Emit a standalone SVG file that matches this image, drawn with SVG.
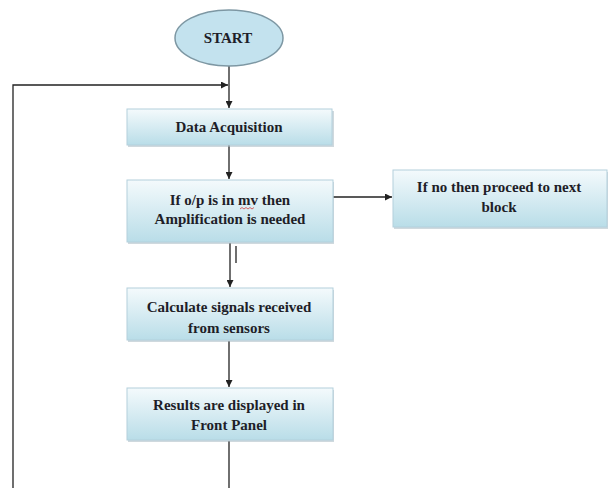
<svg xmlns="http://www.w3.org/2000/svg" width="611" height="488" viewBox="0 0 611 488">
<style>
.box{fill:url(#g);stroke:#b3d0dc;stroke-width:1}
.sh{fill:#a7bac2;opacity:0.55}
.t{font-family:"Liberation Serif","Times New Roman",serif;font-weight:bold;font-size:15px;fill:#1e1e28;text-anchor:middle}
.ln{stroke:#222;stroke-width:1.3;fill:none}
</style>
<defs>
<linearGradient id="g" x1="0" y1="0" x2="0" y2="1">
<stop offset="0" stop-color="#f4fafc"/>
<stop offset="1" stop-color="#b9dde8"/>
</linearGradient>
<marker id="a" viewBox="0 0 10 10" refX="10" refY="5" markerWidth="7" markerHeight="7" orient="auto" markerUnits="userSpaceOnUse">
<path d="M0,0 L10,5 L0,10 z" fill="#222"/>
</marker>
</defs>
<rect width="611" height="488" fill="#fff"/>
<g id="connectors">
<path class="ln" d="M229,66 V108" marker-end="url(#a)"/>
<path class="ln" d="M13,488 V85 H228" marker-end="url(#a)"/>
<path class="ln" d="M229,145 V179" marker-end="url(#a)"/>
<path class="ln" d="M333,197 H392" marker-end="url(#a)"/>
<path class="ln" d="M230,243 V287" marker-end="url(#a)"/>
<path class="ln" d="M236,246 V263"/>
<path class="ln" d="M229,341 V387" marker-end="url(#a)"/>
<path class="ln" d="M229,441 V488"/>
</g>
<g id="start">
<ellipse cx="229" cy="38" rx="54" ry="28" fill="#c3e2ee" stroke="#7d97a3" stroke-width="1.5"/>
<text class="t" x="228" y="43">START</text>
</g>
<g id="data">
<rect class="sh" x="128" y="111" width="206" height="36"/>
<rect class="box" x="127" y="109" width="205" height="36"/>
<text class="t" x="229" y="132">Data Acquisition</text>
</g>
<g id="amp">
<rect class="sh" x="128" y="182" width="206" height="62"/>
<rect class="box" x="127" y="180" width="206" height="62"/>
<text class="t" x="230" y="205">If o/p is in mv then</text>
<path d="M240,209 l2,-1.5 l2,1.5 l2,-1.5 l2,1.5 l2,-1.5 l2,1.5 l2,-1.5" stroke="#d04040" stroke-width="0.8" fill="none"/>
<text class="t" x="230" y="224">Amplification is needed</text>
</g>
<g id="no">
<rect class="sh" x="394" y="172" width="214" height="57"/>
<rect class="box" x="393" y="170" width="214" height="57"/>
<text class="t" x="499" y="192">If no then proceed to next</text>
<text class="t" x="499" y="212">block</text>
</g>
<g id="calc">
<rect class="sh" x="128" y="290" width="206" height="52"/>
<rect class="box" x="127" y="288" width="206" height="52"/>
<text class="t" x="229" y="312">Calculate signals received</text>
<text class="t" x="229" y="333">from sensors</text>
</g>
<g id="results">
<rect class="sh" x="128" y="390" width="206" height="52"/>
<rect class="box" x="127" y="388" width="206" height="52"/>
<text class="t" x="229" y="410">Results are displayed in</text>
<text class="t" x="229" y="430">Front Panel</text>
</g>
</svg>
